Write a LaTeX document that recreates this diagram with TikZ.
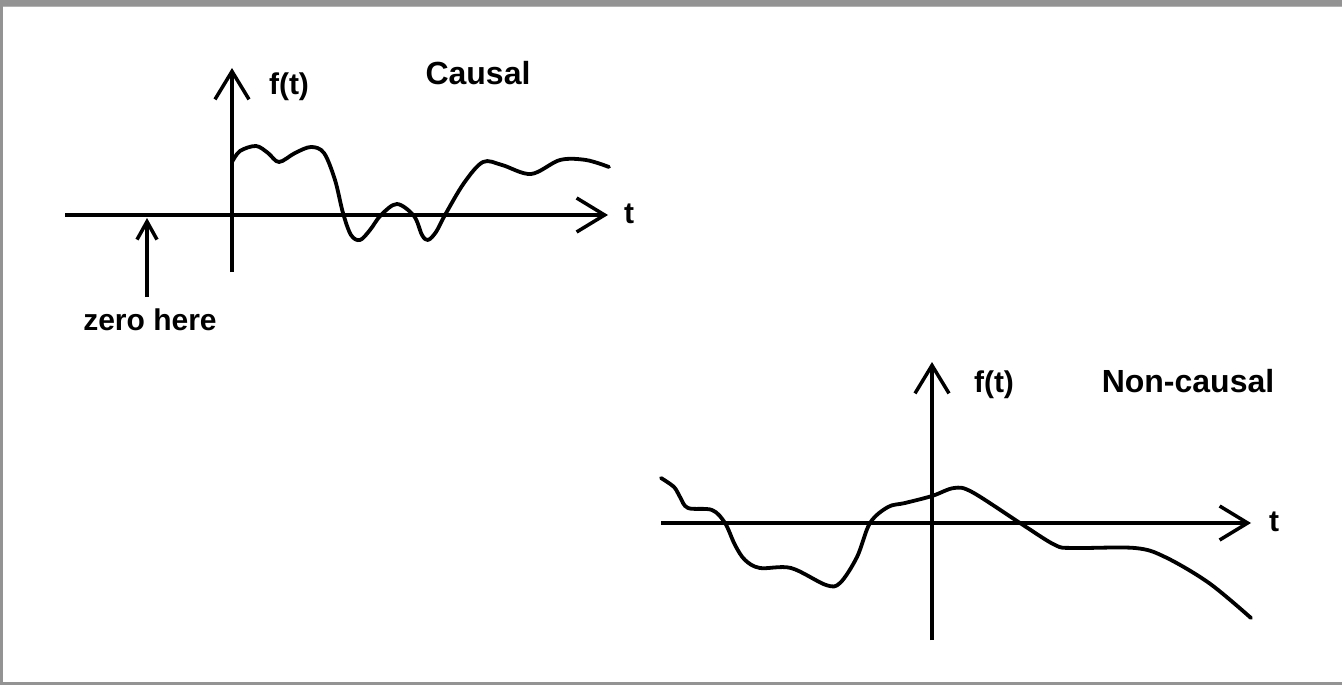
\documentclass[tikz,border=0pt]{standalone}
\usepackage{fontspec}
\setmainfont{Liberation Sans}
\usetikzlibrary{arrows.meta}
\begin{document}
\begin{tikzpicture}[x=1pt,y=-1pt,
  axis/.style={line width=3.5pt},
  curve/.style={line width=3.8pt,line join=round,line cap=round},
  lbl/.style={inner sep=0pt,font=\bfseries\fontsize{30}{34}\selectfont},
  title/.style={inner sep=0pt,font=\bfseries\fontsize{32}{36}\selectfont},
  bigbarb/.style={-{Straight Barb[length=28pt,width=34pt,line width=3.5pt]}},
  smallbarb/.style={-{Straight Barb[length=18pt,width=20pt,line width=3.5pt]}}]
\useasboundingbox (0,0) rectangle (1342,685);
\fill[white] (0,0) rectangle (1342,685);
% frame
\fill[gray!85] (0,0) rectangle (1342,6);
\fill[gray!60] (0,6) rectangle (1342,7.5);
\fill[gray!85] (0,0) rectangle (2.5,685);
\fill[gray!85] (0,682) rectangle (1342,685);
% ---------- causal ----------
\coordinate (cxl) at (65,215);
\coordinate (cxr) at (608,215);
\coordinate (cyb) at (232,272);
\coordinate (cyt) at (232,68);
\coordinate (zb) at (147,297);
\coordinate (zt) at (147,218);
\draw[axis,bigbarb] (cxl) -- (cxr);
\draw[axis,bigbarb] (cyb) -- (cyt);
\draw[axis,smallbarb] (zb) -- (zt);
\node[lbl] (ct) at (629,214) {t};
\node[lbl] (cf) at (289,87) {f(t)};
\node[title] (causal) at (478,73) {Causal};
\node[lbl] (zero) at (150,320) {zero here};
\draw[curve] plot[smooth,tension=0.55] coordinates {
 (232,162) (240,151) (256,146) (268,153) (279,162) (295,153) (311,147)
 (324,153) (335,180) (343,213) (351,235) (360,240) (370,230) (381,215)
 (397,204) (414,216) (422,235) (428,240) (436,232) (445,215)
 (464,183) (483,162) (502,165) (531,174) (560,160) (586,160) (609,167)};
% ---------- non-causal ----------
\coordinate (nxl) at (661,523);
\coordinate (nxr) at (1251,523);
\coordinate (nyb) at (932,640);
\coordinate (nyt) at (932,362);
\draw[axis,bigbarb] (nxl) -- (nxr);
\draw[axis,bigbarb] (nyb) -- (nyt);
\node[lbl] (nt) at (1274,522) {t};
\node[lbl] (nf) at (994,385) {f(t)};
\node[title] (noncausal) at (1188,381) {Non-causal};
\draw[curve] plot[smooth,tension=0.55] coordinates {
 (661,478) (674,487) (680,497) (688,508) (712,510) (725,523) (735,545)
 (745,560) (760,568) (791,568) (826,585) (840,583) (857,557) (870,523)
 (888,507) (905,503) (932,496) (954,488) (972,492) (1020,523) (1055,545)
 (1073,548) (1135,548) (1165,557) (1209,583) (1251,618)};
\end{tikzpicture}
\end{document}
